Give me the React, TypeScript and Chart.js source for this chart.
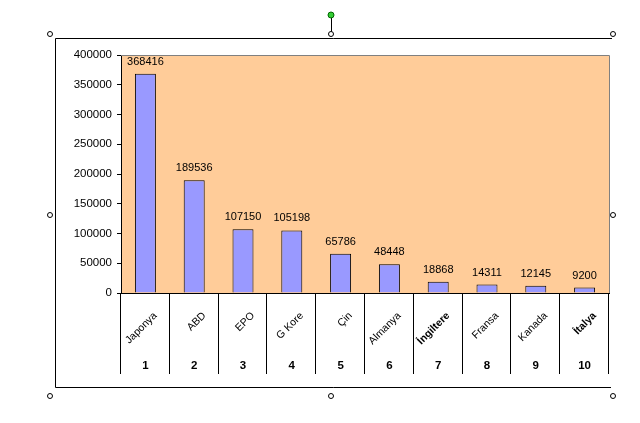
import React, { useEffect, useRef } from 'react';
import { Chart, registerables } from 'chart.js';

Chart.register(...registerables);

const countries = ['Japonya', 'ABD', 'EPO', 'G Kore', 'Çin', 'Almanya', 'İngiltere', 'Fransa', 'Kanada', 'İtalya'];
const ranks = ['1', '2', '3', '4', '5', '6', '7', '8', '9', '10'];
const values = [368416, 189536, 107150, 105198, 65786, 48448, 18868, 14311, 12145, 9200];
const boldCountries = ['İngiltere', 'İtalya'];
const yMin = 0;
const yMax = 400000;
const yStep = 50000;

const FONT = "'Liberation Sans', Arial, sans-serif";

const decorPlugin = {
  id: 'decor',
  beforeDraw(chart: any) {
    const { ctx, chartArea } = chart;
    ctx.save();
    ctx.fillStyle = '#FFCC99';
    ctx.fillRect(chartArea.left, chartArea.top, chartArea.right - chartArea.left, chartArea.bottom - chartArea.top);
    ctx.restore();
  },
  afterDatasetsDraw(chart: any) {
    const { ctx } = chart;
    const meta = chart.getDatasetMeta(0);
    ctx.save();
    ctx.fillStyle = '#000';
    ctx.font = `11px ${FONT}`;
    ctx.textAlign = 'center';
    ctx.textBaseline = 'middle';
    meta.data.forEach((bar: any, i: number) => {
      ctx.fillText(String(values[i]), bar.x, bar.y - 12);
    });
    ctx.restore();
  },
  afterDraw(chart: any) {
    const { ctx, chartArea } = chart;
    const xs = chart.scales.x;
    ctx.save();
    // plot border top/right grey
    ctx.strokeStyle = '#808080';
    ctx.lineWidth = 1;
    ctx.beginPath();
    ctx.moveTo(chartArea.left, Math.round(chartArea.top) + 0.5);
    ctx.lineTo(Math.round(chartArea.right) + 0.5, Math.round(chartArea.top) + 0.5);
    ctx.lineTo(Math.round(chartArea.right) + 0.5, chartArea.bottom);
    ctx.stroke();

    // category dividers
    ctx.strokeStyle = '#000';
    const n = countries.length;
    const w = (xs.right - xs.left) / n;
    ctx.beginPath();
    for (let i = 0; i <= n; i++) {
      const x = Math.round(xs.left + i * w) - 0.5;
      ctx.moveTo(x, chartArea.bottom);
      ctx.lineTo(x, 374);
    }
    ctx.stroke();

    // rotated names
    ctx.fillStyle = '#000';
    countries.forEach((c, i) => {
      const cx = xs.getPixelForValue(i);
      ctx.save();
      ctx.translate(cx + 10, 314);
      ctx.rotate(-Math.PI / 4);
      ctx.font = `${boldCountries.includes(c) ? 'bold ' : ''}10.5px ${FONT}`;
      ctx.textAlign = 'right';
      ctx.textBaseline = 'middle';
      ctx.fillText(c, 0, 0);
      ctx.restore();
    });

    // rank numbers
    ctx.font = `bold 11.5px ${FONT}`;
    ctx.textAlign = 'center';
    ctx.textBaseline = 'middle';
    ranks.forEach((r, i) => {
      const cx = xs.getPixelForValue(i);
      ctx.fillText(r, cx, 366);
    });

    // chart frame
    ctx.strokeStyle = '#000';
    ctx.beginPath();
    ctx.moveTo(612, 38.5);
    ctx.lineTo(55.5, 38.5);
    ctx.lineTo(55.5, 387.5);
    ctx.lineTo(611, 387.5);
    ctx.stroke();

    // selection handles
    const hx = [50, 331, 613];
    const hy = [34, 215, 396];
    ctx.lineWidth = 1;
    ctx.strokeStyle = '#000';
    ctx.fillStyle = '#fff';
    hy.forEach((y, yi) => {
      hx.forEach((x, xi) => {
        if (yi === 1 && xi === 1) return;
        ctx.beginPath();
        ctx.arc(x, y, 2.5, 0, Math.PI * 2);
        ctx.fill();
        ctx.stroke();
      });
    });
    // rotation handle
    ctx.beginPath();
    ctx.moveTo(331.5, 18);
    ctx.lineTo(331.5, 31.5);
    ctx.stroke();
    ctx.beginPath();
    ctx.arc(331, 15, 3, 0, Math.PI * 2);
    ctx.fillStyle = '#33CC33';
    ctx.fill();
    ctx.strokeStyle = '#006600';
    ctx.stroke();
    ctx.restore();
  },
};

export default function App() {
  const ref = useRef<HTMLCanvasElement>(null);
  useEffect(() => {
    if (!ref.current) return;
    const chart = new Chart(ref.current, {
      type: 'bar',
      data: {
        labels: countries,
        datasets: [
          {
            data: values,
            backgroundColor: '#9999FF',
            borderColor: '#000',
            borderWidth: 1,
            barPercentage: 0.43,
            categoryPercentage: 1,
          },
        ],
      },
      options: {
        responsive: false,
        animation: false,
        devicePixelRatio: 1,
        layout: { padding: { left: 0, right: 31, top: 55, bottom: 0 } },
        plugins: { legend: { display: false }, tooltip: { enabled: false } },
        scales: {
          x: {
            type: 'category',
            offset: true,
            grid: { display: false },
            ticks: { display: false },
            border: { display: true, color: '#000', width: 1 },
            afterFit: (s: any) => {
              s.height = 130;
            },
          },
          y: {
            min: yMin,
            max: yMax,
            ticks: {
              stepSize: yStep,
              color: '#000',
              font: { family: FONT, size: 11.5 },
              padding: 5,
              callback: (v: any) => String(v),
            },
            grid: { display: true, drawOnChartArea: false, drawTicks: true, tickLength: 4, color: '#000' },
            border: { display: true, color: '#000', width: 1 },
            afterFit: (s: any) => {
              s.width = 121;
            },
          },
        },
      },
      plugins: [decorPlugin],
    });
    return () => chart.destroy();
  }, []);
  return (
    <div style={{ position: 'fixed', left: 0, top: 0, width: 640, height: 423, background: '#fff' }}>
      <canvas ref={ref} width={640} height={423} style={{ width: 640, height: 423 }} />
    </div>
  );
}
